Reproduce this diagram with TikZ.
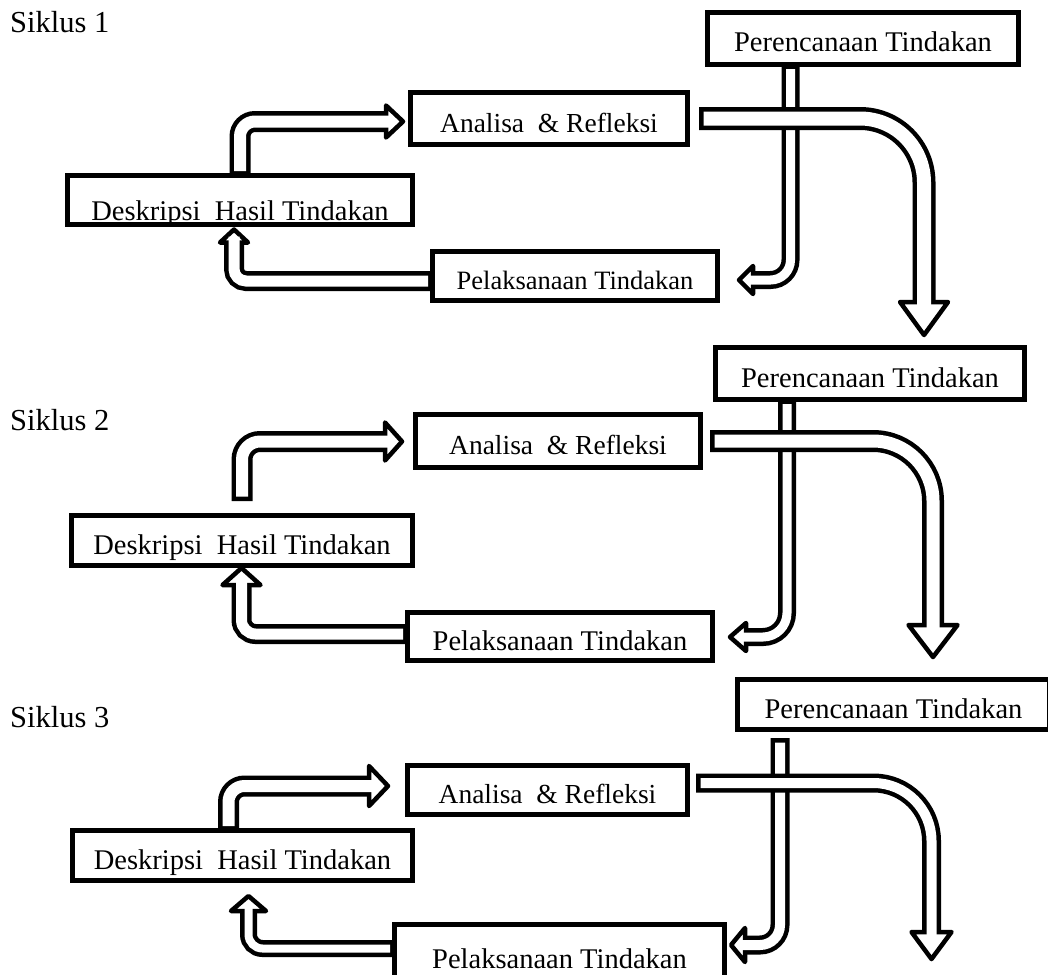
\documentclass[tikz,border=0pt]{standalone}
\usepackage{fontspec}
\setmainfont{Liberation Serif}
\tikzset{
    box/.style = {draw, line width=5pt, inner sep=0pt, text height=27pt, text depth=0pt,
                  font=\fontsize{28.5}{30}\selectfont},
    siklus/.style = {anchor=base west, inner sep=0pt, font=\fontsize{30.5}{32}\selectfont},
    band/.style = {line width=#1,
                   postaction={draw=white, line width=#1-9pt, shorten <=4.5pt, shorten >=-6pt}},
    tipline/.style = {draw, fill=white, line width=4.5pt, line join=round},
    pics/tip/.style 2 args = {code={\draw[tipline] (-#1,-#2) -- (0,0) -- (-#1,#2) -- cycle;}}
}
\begin{document}
\begin{tikzpicture}[x=1pt,y=1pt]
        \useasboundingbox (0,0) rectangle (1048,-974);
        % siklus 1
        \node[siklus] (s1) at (10,-33) {Siklus 1};
        \node[box,minimum width=311pt,minimum height=52pt] (P1) at (863,-38.5) {Perencanaan Tindakan};
        \node[box,minimum width=277pt,minimum height=52pt,font=\fontsize{27.5}{30}\selectfont] (A1) at (549,-118.5) {Analisa\ \ \& Refleksi};
        \node[box,minimum width=345pt,minimum height=49pt,text height=40pt] (D1) at (240,-200) {Deskripsi\ \ Hasil Tindakan};
        \node[box,minimum width=285pt,minimum height=49pt,font=\fontsize{26.5}{30}\selectfont] (L1) at (575,-276) {Pelaksanaan Tindakan};
        \coordinate (t1a) at (403,-121.5);
        \coordinate (t1b) at (234,-229.5);
        \coordinate (t1c) at (739,-280);
        \coordinate (t1d) at (924,-335);
        \pic[rotate=180] at (t1c) {tip={14}{14}};
        \draw[band=18pt,rounded corners=20pt] ([xshift=-72.5pt,yshift=2.5pt]P1.south) |- ([xshift=14pt]t1c);
        \pic at (t1a) {tip={17}{16}};
        \draw[band=21pt,rounded corners=15pt] ([yshift=-2.5pt]D1.north) |- ([xshift=-17pt]t1a);
        \pic[rotate=90] at (t1b) {tip={13}{14}};
        \draw[band=20pt,rounded corners=12pt] ([xshift=2.5pt,yshift=-5pt]L1.west) -| ([yshift=-13pt]t1b);
        \pic[rotate=-90] at (t1d) {tip={33}{24}};
        \draw[band=23pt,rounded corners=64pt] ([xshift=9pt]A1.east) -| ([yshift=33pt]t1d);
        % siklus 2
        \node[siklus] (s2) at (10,-430) {Siklus 2};
        \node[box,minimum width=309pt,minimum height=52pt] (P2) at (870,-373.5) {Perencanaan Tindakan};
        \node[box,minimum width=285pt,minimum height=53pt,font=\fontsize{27.5}{30}\selectfont] (A2) at (558,-441) {Analisa\ \ \& Refleksi};
        \node[box,minimum width=341pt,minimum height=50pt] (D2) at (242,-540.5) {Deskripsi\ \ Hasil Tindakan};
        \node[box,minimum width=305pt,minimum height=48pt] (L2) at (560,-636.5) {Pelaksanaan Tindakan};
        \coordinate (t2a) at (402,-441.5);
        \coordinate (t2b) at (241.5,-568);
        \coordinate (t2c) at (730,-637);
        \coordinate (t2d) at (933,-657);
        \pic[rotate=180] at (t2c) {tip={16}{14}};
        \draw[band=18pt,rounded corners=24pt] ([xshift=-83pt,yshift=2.5pt]P2.south) |- ([xshift=16pt]t2c);
        \pic at (t2a) {tip={17}{19}};
        \draw[band=21pt,rounded corners=18pt] ([yshift=12pt]D2.north) |- ([xshift=-17pt]t2a);
        \pic[rotate=90] at (t2b) {tip={17}{19}};
        \draw[band=20pt,rounded corners=14pt] ([xshift=2.5pt,yshift=2.5pt]L2.west) -| ([yshift=-17pt]t2b);
        \pic[rotate=-90] at (t2d) {tip={32}{24.5}};
        \draw[band=22pt,rounded corners=60pt] ([xshift=7pt]A2.east) -| ([yshift=32pt]t2d);
        % siklus 3
        \node[siklus] (s3) at (10,-727) {Siklus 3};
        \node[box,minimum width=312pt,minimum height=50pt] (P3) at (893.5,-704.5) {Perencanaan Tindakan};
        \node[box,minimum width=280pt,minimum height=49pt,font=\fontsize{27.5}{30}\selectfont] (A3) at (547.5,-790) {Analisa\ \ \& Refleksi};
        \node[box,minimum width=340pt,minimum height=50pt] (D3) at (242.5,-855.5) {Deskripsi\ \ Hasil Tindakan};
        \node[box,minimum width=330pt,minimum height=62pt] (L3) at (559.5,-955) {Pelaksanaan Tindakan};
        \coordinate (t3a) at (388,-786);
        \coordinate (t3b) at (248.5,-896);
        \coordinate (t3c) at (731,-945);
        \coordinate (t3d) at (931.5,-959);
        \pic[rotate=180] at (t3c) {tip={14}{17}};
        \draw[band=19pt,rounded corners=20pt] ([xshift=-113.5pt,yshift=-6pt]P3.south) |- ([xshift=14pt]t3c);
        \pic at (t3a) {tip={19}{20}};
        \draw[band=21pt,rounded corners=16pt] ([xshift=-14pt,yshift=-2.5pt]D3.north) |- ([xshift=-19pt]t3a);
        \pic[rotate=90] at (t3b) {tip={15}{17.5}};
        \draw[band=17pt,rounded corners=14pt] ([xshift=2.5pt,yshift=6.5pt]L3.west) -| ([yshift=-15pt]t3b);
        \pic[rotate=-90] at (t3d) {tip={27}{20}};
        \draw[band=19pt,rounded corners=58pt] ([xshift=6pt,yshift=7pt]A3.east) -| ([yshift=27pt]t3d);
\end{tikzpicture}
\end{document}
